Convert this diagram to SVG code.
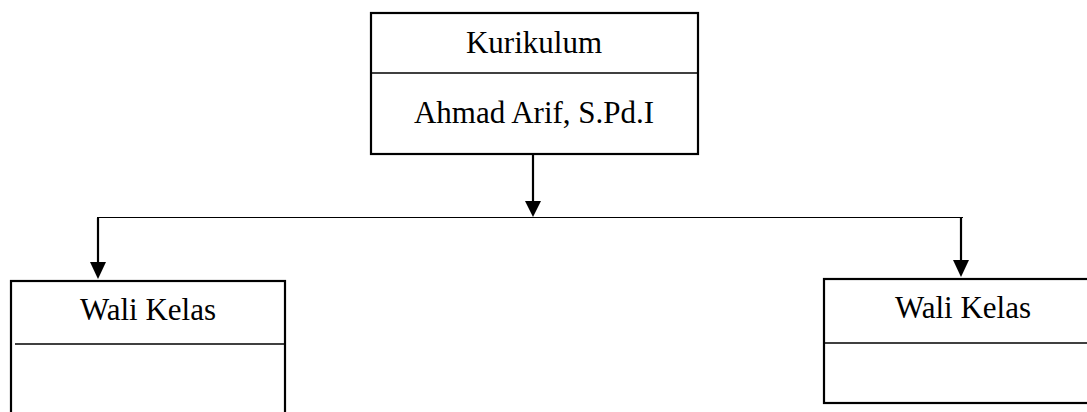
<svg xmlns="http://www.w3.org/2000/svg" width="1087" height="412" viewBox="0 0 1087 412">
<defs>
<marker id="ah" markerWidth="10" markerHeight="10" refX="8" refY="5" orient="auto" markerUnits="userSpaceOnUse">
<path d="M0,0 L10,5 L0,10 Z" fill="#000"/>
</marker>
<style>
.box{fill:#fff;stroke:#000;stroke-width:2.2}
.div{stroke:#000;stroke-width:1.3}
.t{font-family:"Liberation Serif","Times New Roman",serif;font-size:31px;fill:#000;text-anchor:middle}
.c{stroke:#000;stroke-width:1.2;fill:none}
.a{stroke:#000;stroke-width:2.2;fill:none}
</style>
</defs>
<g id="connectors">
<line class="c" x1="97" y1="217.5" x2="963" y2="217.5"/>
<polyline class="a" points="533,155 533,203"/>
<polygon points="525,201 541,201 533,217" fill="#000"/>
<polyline class="a" points="98,218 98,264"/>
<polygon points="90,262 106,262 98,279" fill="#000"/>
<polyline class="a" points="961,218 961,262"/>
<polygon points="953,260 969,260 961,277" fill="#000"/>
</g>
<g id="kurikulum">
<rect class="box" x="371" y="13" width="327" height="141"/>
<line class="div" x1="371" y1="73" x2="698" y2="73"/>
<text class="t" x="534" y="53">Kurikulum</text>
<text class="t" x="534" y="123">Ahmad Arif, S.Pd.I</text>
</g>
<g id="wali-kiri">
<rect class="box" x="11" y="281" width="274" height="150"/>
<line class="div" x1="15" y1="344" x2="285" y2="344"/>
<text class="t" x="148" y="320">Wali Kelas</text>
</g>
<g id="wali-kanan">
<rect class="box" x="824" y="279" width="280" height="124"/>
<line class="div" x1="824" y1="343" x2="1087" y2="343"/>
<text class="t" x="963" y="318">Wali Kelas</text>
</g>
</svg>
